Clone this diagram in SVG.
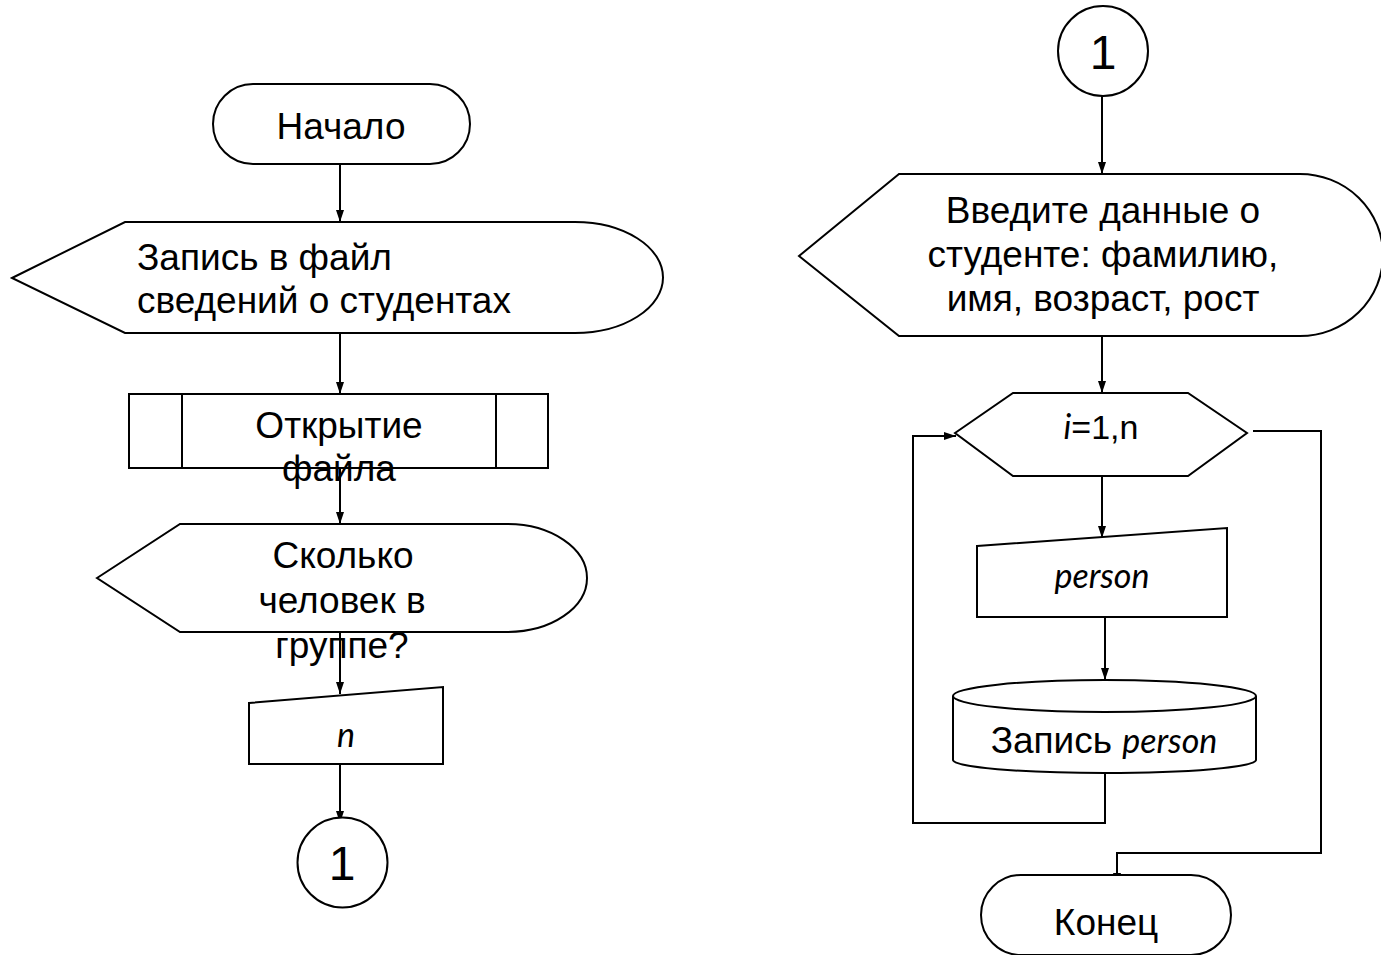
<svg xmlns="http://www.w3.org/2000/svg" width="1381" height="955" viewBox="0 0 1381 955">
<defs>
<style>
.s{fill:#fff;stroke:#000;stroke-width:2}
.c{fill:none;stroke:#000;stroke-width:2}
.t{font-family:"Liberation Sans",Arial,sans-serif;font-size:37px;fill:#000;text-anchor:middle}
.l{text-anchor:start}
.it{font-family:Lato,"Open Sans",sans-serif;font-style:italic;font-size:34px}
.big{font-size:48px}
.sm{font-size:34px}
</style>
<marker id="a" viewBox="0 0 12 8" refX="12" refY="4" markerWidth="12" markerHeight="8" markerUnits="userSpaceOnUse" orient="auto">
<path d="M0,0 L12,4 L0,8 z" fill="#000"/>
</marker>
</defs>
<rect width="1381" height="955" fill="#fff"/>
<g id="connectors" class="c">
<path d="M340,164 V222" marker-end="url(#a)"/>
<path d="M340,333 V394" marker-end="url(#a)"/>
<path d="M340,468 V524" marker-end="url(#a)"/>
<path d="M340,632 V694" marker-end="url(#a)"/>
<path d="M340,764 V823" marker-end="url(#a)"/>
<path d="M1102,96 V174" marker-end="url(#a)"/>
<path d="M1102,336 V393" marker-end="url(#a)"/>
<path d="M1102,476 V538" marker-end="url(#a)"/>
<path d="M1105,617 V680" marker-end="url(#a)"/>
<path d="M1105,773 V823 H913 V436 H956" marker-end="url(#a)"/>
<path d="M1253,431 H1321 V853 H1117 V885" marker-end="url(#a)"/>
</g>
<g id="start">
<rect class="s" x="213" y="84" width="257" height="80" rx="40" ry="40"/>
<text class="t" x="341" y="139">Начало</text>
</g>
<g id="display1">
<path class="s" d="M12,278 L125,222 H575 A88,55.5 0 0 1 575,333 H125 Z"/>
<text class="t l" x="137" y="270">Запись в файл</text>
<text class="t l" x="137" y="313">сведений о студентах</text>
</g>
<g id="openfile">
<rect class="s" x="129" y="394" width="419" height="74"/>
<path class="c" d="M182,394 V468 M496,394 V468"/>
</g>
<g id="display2">
<path class="s" d="M97,578 L180,524 H507 A80,54 0 0 1 507,632 H180 Z"/>
</g>
<g id="input-n">
<path class="s" d="M249,703 L443,687 V764 H249 Z"/>
<text class="t it" x="346" y="747">n</text>
</g>
<g id="conn-left">
<circle class="s" cx="342.5" cy="862.5" r="45"/>
<text class="t big" x="342" y="880">1</text>
</g>
<g id="labels-over">
<text class="t" x="339" y="438">Открытие</text>
<text class="t" x="339" y="481">файла</text>
<text class="t" x="343" y="568">Сколько</text>
<text class="t" x="342" y="613">человек в</text>
<text class="t" x="342" y="658">группе?</text>
</g>
<g id="conn-right">
<circle class="s" cx="1103" cy="51" r="45"/>
<text class="t big" x="1103" y="69">1</text>
</g>
<g id="display3">
<path class="s" d="M799,256 L899,174 H1300 A83,81 0 0 1 1300,336 H899 Z"/>
<text class="t" x="1103" y="223">Введите данные о</text>
<text class="t" x="1103" y="267">студенте: фамилию,</text>
<text class="t" x="1103" y="311">имя, возраст, рост</text>
</g>
<g id="loop">
<path class="s" d="M955,433 L1013,393 H1188 L1247,433 L1188,476 H1013 Z"/>
<text class="t sm" x="1101" y="439"><tspan class="it">i</tspan>=1,n</text>
</g>
<g id="input-person">
<path class="s" d="M977,546 L1227,528 V617 H977 Z"/>
<text class="t it" x="1102" y="588">person</text>
</g>
<g id="store">
<path class="s" d="M953,696 V760 A151.5,13 0 0 0 1256,760 V696"/>
<ellipse class="s" cx="1104.5" cy="696" rx="151.5" ry="16"/>
<text class="t" x="1104" y="753">Запись <tspan class="it">person</tspan></text>
</g>
<g id="end">
<rect class="s" x="981" y="875" width="250" height="80" rx="40" ry="40"/>
<text class="t" x="1106" y="935">Конец</text>
</g>
</svg>
